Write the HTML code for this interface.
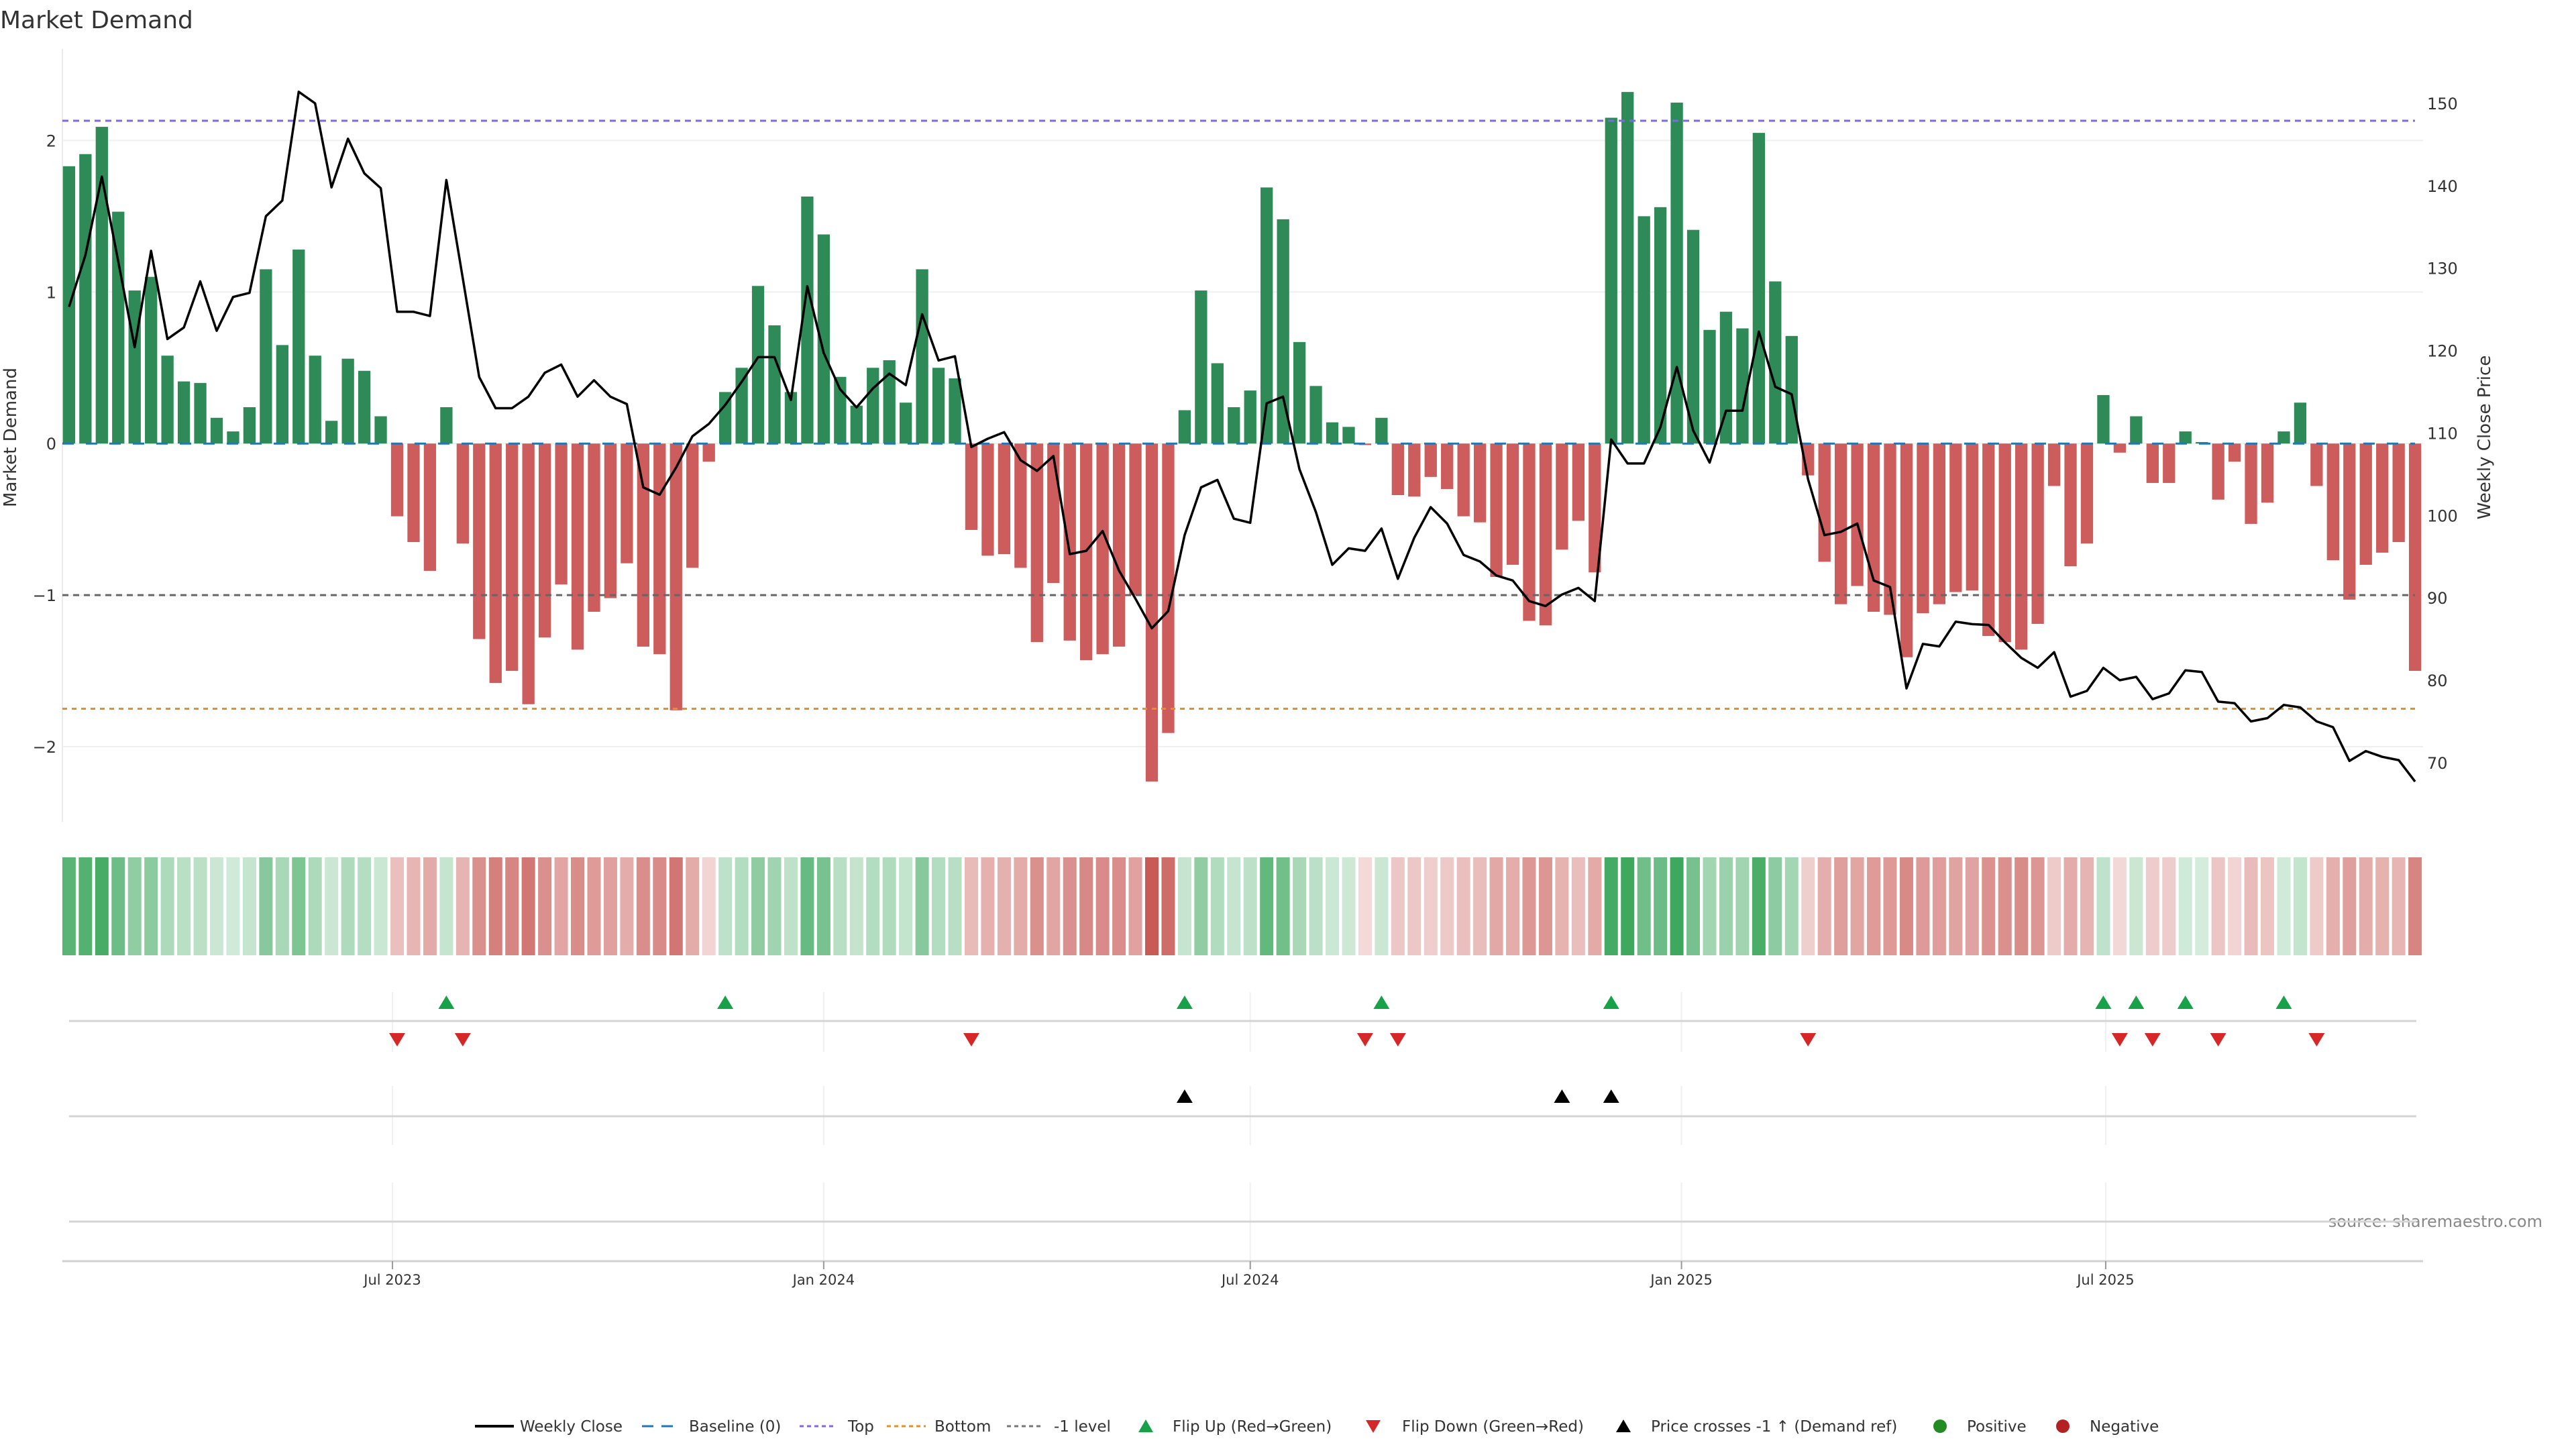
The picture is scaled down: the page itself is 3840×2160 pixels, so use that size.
<!DOCTYPE html>
<html><head><meta charset="utf-8">
<style>
html,body{margin:0;padding:0;background:#fff;}
svg{display:block;font-family:"DejaVu Sans","Liberation Sans",sans-serif;}
</style></head>
<body>
<svg id="chart" width="3840" height="2160" viewBox="0 0 3840 2160" xmlns="http://www.w3.org/2000/svg">
<text x="0" y="42" font-size="36" fill="#333">Market Demand</text>
<text transform="translate(24,652) rotate(-90)" text-anchor="middle" font-size="26" fill="#333">Market Demand</text>
<text transform="translate(3712,652) rotate(-90)" text-anchor="middle" font-size="26" fill="#333">Weekly Close Price</text>
<text x="3790" y="1829" text-anchor="end" font-size="24" fill="#888">source: sharemaestro.com</text>
<g id="grid"></g><g id="bars"></g><g id="refs"></g><g id="price"></g><g id="heat"></g><g id="rows"></g><g id="xaxis"></g><g id="legend"></g>
</svg>
<script>
const demand = [1.83,1.91,2.09,1.53,1.01,1.10,0.58,0.41,0.40,0.17,0.08,0.24,1.15,0.65,1.28,0.58,0.15,0.56,0.48,0.18,
-0.48,-0.65,-0.84,0.24,-0.66,-1.29,-1.58,-1.50,-1.72,-1.28,-0.93,-1.36,-1.11,-1.02,-0.79,-1.34,-1.39,-1.76,-0.82,-0.12,
0.34,0.50,1.04,0.78,0.34,1.63,1.38,0.44,0.25,0.50,0.55,0.27,1.15,0.50,0.43,-0.57,-0.74,-0.73,-0.82,-1.31,
-0.92,-1.30,-1.43,-1.39,-1.34,-1.00,-2.23,-1.91,0.22,1.01,0.53,0.24,0.35,1.69,1.48,0.67,0.38,0.14,0.11,-0.01,
0.17,-0.34,-0.35,-0.22,-0.30,-0.48,-0.52,-0.88,-0.80,-1.17,-1.20,-0.70,-0.51,-0.85,2.15,2.32,1.50,1.56,2.25,1.41,
0.75,0.87,0.76,2.05,1.07,0.71,-0.21,-0.78,-1.06,-0.94,-1.11,-1.13,-1.41,-1.12,-1.06,-0.98,-0.97,-1.27,-1.31,-1.36,
-1.19,-0.28,-0.81,-0.66,0.32,-0.06,0.18,-0.26,-0.26,0.08,0.01,-0.37,-0.12,-0.53,-0.39,0.08,0.27,-0.28,-0.77,-1.03,-0.80,-0.72,-0.65,-1.50];
const closes = [125.3,131.6,141.1,130.8,120.4,132.1,121.4,122.8,128.4,122.4,126.5,127.0,136.3,138.2,151.4,150.0,139.8,145.7,141.5,139.7,
124.7,124.7,124.2,140.7,128.8,116.8,113.0,113.0,114.4,117.3,118.3,114.4,116.4,114.4,113.5,103.4,102.5,105.8,109.6,111.1,
113.4,116.2,119.2,119.2,114.0,127.8,119.7,115.3,113.1,115.4,117.2,115.8,124.4,118.8,119.3,108.3,109.3,110.1,106.7,105.4,
107.2,95.3,95.7,98.1,93.3,89.9,86.3,88.4,97.6,103.4,104.3,99.6,99.1,113.6,114.4,105.6,100.4,94.0,96.0,95.7,
98.4,92.3,97.3,101.0,99.0,95.2,94.4,92.7,92.1,89.6,89.0,90.4,91.2,89.6,109.2,106.3,106.3,110.7,118.0,110.3,
106.4,112.7,112.7,122.3,115.6,114.7,104.4,97.6,98.0,99.0,92.1,91.3,79.0,84.4,84.1,87.1,86.8,86.7,84.6,82.7,
81.5,83.4,78.0,78.7,81.5,80.0,80.4,77.7,78.4,81.2,81.0,77.4,77.2,75.0,75.4,77.0,76.7,75.0,74.3,70.2,71.4,70.7,70.3,67.7];
const priceCrossIdx = [68, 91, 94];
const startDate = "2023-02-13";
const xTickDates = ["2023-07-01","2024-01-01","2024-07-01","2025-01-01","2025-07-01"];
const xTickLabels = ["Jul 2023","Jan 2024","Jul 2024","Jan 2025","Jul 2025"];
const yTicks = [2,1,0,-1,-2];
const yTickLabels = ["2","1","0","\u22121","\u22122"];
const y2Ticks = [150,140,130,120,110,100,90,80,70];
const refTop = 2.13, refBottom = -1.75, refMinus1 = -1;

const NS="http://www.w3.org/2000/svg";
function mk(tag, attrs, parent){const e=document.createElementNS(NS,tag);for(const k in attrs)e.setAttribute(k,attrs[k]);parent.appendChild(e);return e;}
const X = i => 102.9 + 24.456*i;
const Y = v => 661.2 - 225.9*v;
const Y2 = p => 154 + (150-p)*12.285;
const dateIdx = d => (new Date(d) - new Date(startDate))/ (7*86400000);
const L=93, R=3612;

const grid=document.getElementById('grid');
let sp=mk('line',{x1:L,x2:L,y1:73,y2:1225,stroke:'#ebebeb','stroke-width':2},grid);


yTicks.forEach((t,k)=>{
  const g=mk('line',{x1:L,x2:R,y1:Y(t),y2:Y(t),stroke:'#efefef','stroke-width':2},grid);
  
  
  const tx=mk('text',{x:84,y:Y(t)+9,'text-anchor':'end','font-size':24,fill:'#333'},grid);
  tx.textContent=yTickLabels[k];
  
  
});
y2Ticks.forEach(t=>{
  const tx=mk('text',{x:3618,y:Y2(t)+9,'font-size':24,fill:'#333'},grid);
  tx.textContent=String(t);
  
  
});

const bars=document.getElementById('bars');
demand.forEach((v,i)=>{
  const y0=Y(0), y1=Y(v);
  const b=mk('rect',{x:X(i)-9.15,y:Math.min(y0,y1),width:18.3,height:Math.max(0.5,Math.abs(y1-y0)),fill:v>=0?'#2e8b57':'#cd5c5c'},bars);
  
  
});

const refs=document.getElementById('refs');
function ref(v,col,dash,name){const l=mk('line',{x1:L,x2:3600,y1:Y(v),y2:Y(v),stroke:col,'stroke-width':3,'stroke-dasharray':dash},refs);
  
  }
ref(0,'#1f77b4','17 18','baseline-zero');
ref(refTop,'#7b68ee','9 7','top-level-line');
ref(refBottom,'#e8901a','7 7','bottom-level-line');
ref(refMinus1,'#666','9 7','minus-one-level-line');

const pr=document.getElementById('price');
const pl=mk('polyline',{points:closes.map((p,i)=>X(i).toFixed(1)+','+Y2(p).toFixed(1)).join(' '),fill:'none',stroke:'#000','stroke-width':3.5,'stroke-linejoin':'round'},pr);



const heat=document.getElementById('heat');
demand.forEach((v,i)=>{
  const a=Math.min(0.92,0.2+0.32*Math.abs(v));
  const c=v>=0?[44,160,80]:[195,75,70];
  const col='rgb('+c.map(ch=>Math.round(255-(255-ch)*a)).join(',')+')';
  const r=mk('rect',{x:X(i)-10,y:1278,width:20,height:146,fill:col},heat);
  
  
});

const rows=document.getElementById('rows');
xTickDates.forEach(d=>{
  const x=X(dateIdx(d));
  [[1479,1568],[1619,1707],[1763,1880]].forEach(s=>{
    const g=mk('line',{x1:x,x2:x,y1:s[0],y2:s[1],stroke:'#eef0f2','stroke-width':2},rows);
    
    
  });
});
[1522,1664,1821].forEach(y=>{
  const l=mk('line',{x1:103,x2:3602,y1:y,y2:y,stroke:'#d4d4d4','stroke-width':3},rows);
  
  
});
function tri(x,y,up,col,name){
  const p=up?`${x-12},${y+10} ${x+12},${y+10} ${x},${y-10}`:`${x-12},${y-10} ${x+12},${y-10} ${x},${y+10}`;
  const t=mk('polygon',{points:p,fill:col},rows);
  
  
}
for(let i=1;i<demand.length;i++){
  if(demand[i]>0&&demand[i-1]<=0) tri(X(i),1494,true,'#17a24a','flip-up-marker');
  if(demand[i]<0&&demand[i-1]>=0) tri(X(i),1550,false,'#d62728','flip-down-marker');
}
priceCrossIdx.forEach(i=>tri(X(i),1634,true,'#000','price-cross-marker'));

const xa=document.getElementById('xaxis');
const ax=mk('line',{x1:L,x2:R,y1:1880,y2:1880,stroke:'#d0d0d0','stroke-width':3},xa);


xTickDates.forEach((d,k)=>{
  const x=X(dateIdx(d));
  const tk=mk('line',{x1:x,x2:x,y1:1880,y2:1892,stroke:'#999','stroke-width':2},xa);
  
  
  const t=mk('text',{x:x,y:1915,'text-anchor':'middle','font-size':21,fill:'#333'},xa);
  t.textContent=xTickLabels[k];
  
  
});

const lg=document.getElementById('legend');
const LY=2126;
function ltext(x,s){const t=mk('text',{x:x,y:LY+8,'font-size':23,fill:'#333'},lg);t.textContent=s;
  
  }
function lline(x1,x2,col,dash,w){const l=mk('line',{x1:x1,x2:x2,y1:LY,y2:LY,stroke:col,'stroke-width':w,'stroke-dasharray':dash},lg);
  
  }
lline(708,766,'#000','none',4); ltext(775,'Weekly Close');
lline(957,1015,'#1f77b4','17 12',3); ltext(1027,'Baseline (0)');
lline(1192,1247,'#7b68ee','6 5',3); ltext(1264,'Top');
lline(1322,1380,'#e8901a','6 5',3); ltext(1393,'Bottom');
lline(1501,1554,'#777','6 5',3); ltext(1571,'-1 level');
function ltri(x,up,col){const p=up?`${x-11},${LY+9} ${x+11},${LY+9} ${x},${LY-10}`:`${x-11},${LY-9} ${x+11},${LY-9} ${x},${LY+10}`;
  const t=mk('polygon',{points:p,fill:col},lg);
  
  }
ltri(1708,true,'#17a24a'); ltext(1748,'Flip Up (Red\u2192Green)');
ltri(2047,false,'#d62728'); ltext(2090,'Flip Down (Green\u2192Red)');
ltri(2420,true,'#000'); ltext(2461,'Price crosses -1 \u2191 (Demand ref)');
function ldot(x,col){const c=mk('circle',{cx:x,cy:LY,r:10,fill:col},lg);
  
  }
ldot(2892,'#228b22'); ltext(2932,'Positive');
ldot(3075,'#b22222'); ltext(3115,'Negative');
</script>
</body></html>
